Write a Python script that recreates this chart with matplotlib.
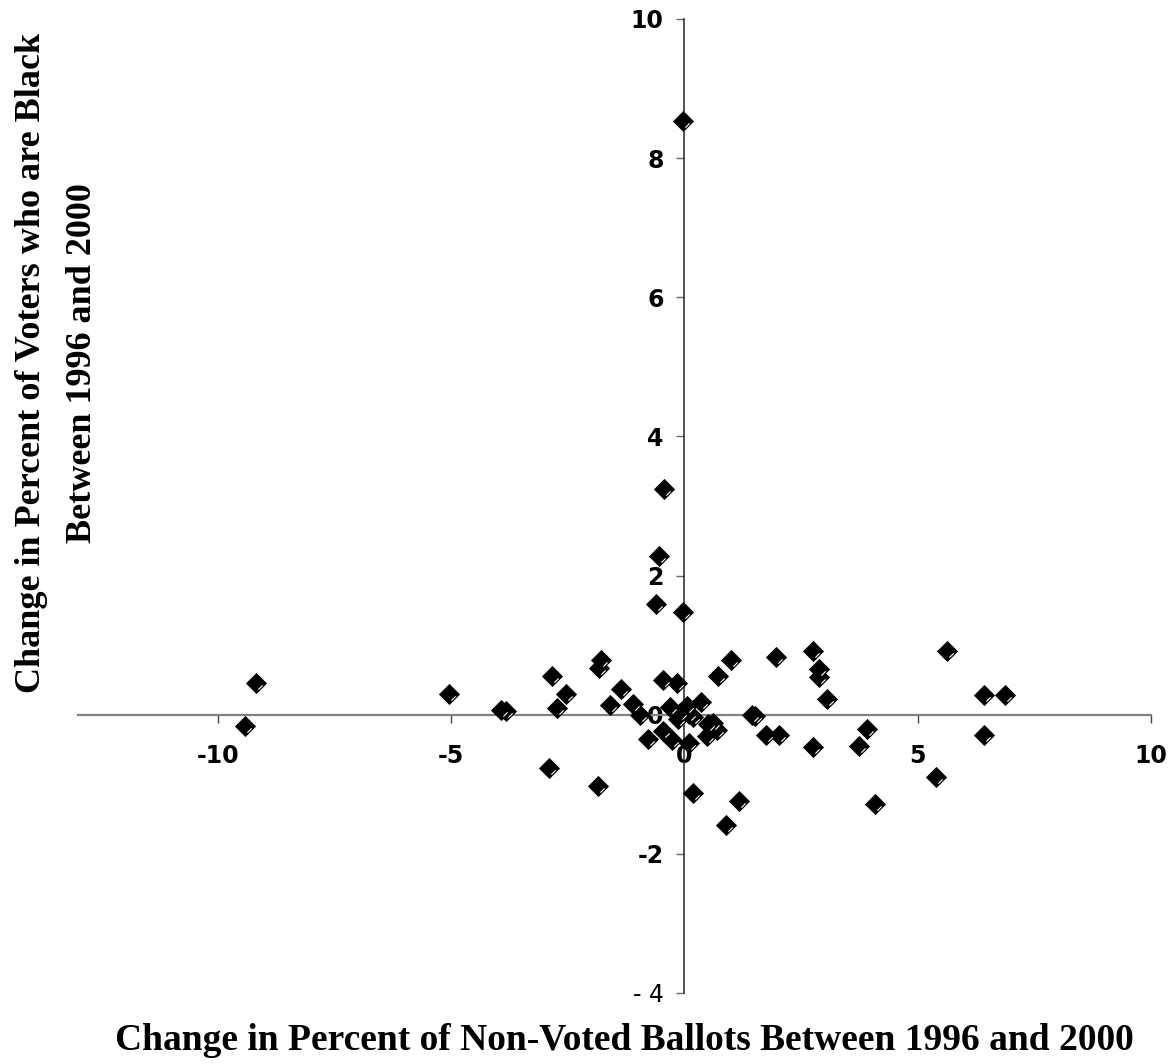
import matplotlib
matplotlib.use("Agg")
import matplotlib.pyplot as plt
from matplotlib.path import Path

# Change in percent of non-voted ballots (x) vs change in percent of voters who are Black (y)
x_vals = [-9.42, -9.19, -5.05, -3.94, -3.82, -2.85, -2.74, -2.55, -2.91, -1.80,
          -1.83, -1.86, -1.60, -1.35, -1.10, -0.95, -0.78, -0.62, -0.54, -0.43,
          -0.03, -0.03, -0.46, -0.17, -0.45, -0.32, -0.26, -0.10, -0.13, 0.06,
          0.09, 0.19, 0.35, 0.10, 0.50, 0.48, 0.70, 0.62, 0.71, 1.00,
          0.19, 1.17, 0.88, 1.45, 1.51, 1.74, 2.03, 1.97, 2.76, 2.88,
          2.88, 3.06, 2.76, 3.74, 3.92, 4.09, 5.40, 5.63, 6.42, 6.88,
          6.42]
y_vals = [-0.16, 0.45, 0.30, 0.07, 0.06, 0.56, 0.10, 0.30, -0.76, 0.79,
          0.67, -1.03, 0.14, 0.37, 0.16, 0.00, -0.35, 1.59, 2.28, 3.25,
          8.53, 1.48, 0.50, 0.45, -0.23, 0.11, -0.37, 0.03, -0.06, 0.13,
          0.01, -0.04, 0.18, -0.40, -0.14, -0.30, -0.22, -0.12, 0.56, 0.79,
          -1.12, -1.24, -1.58, 0.00, -0.02, -0.29, -0.29, 0.83, 0.91, 0.65,
          0.54, 0.22, -0.47, -0.45, -0.20, -1.28, -0.89, 0.91, 0.29, 0.29,
          -0.29]

x_ticks = [-10, -5, 0, 5, 10]
x_ticklabels = ["-10", "-5", "0", "5", "10"]
y_ticks = [-4, -2, 0, 2, 4, 6, 8, 10]
y_ticklabels = ["- 4", "-2", "0", "2", "4", "6", "8", "10"]

x_title = "Change in Percent of Non-Voted Ballots Between 1996 and 2000"
y_title = "Change in Percent of Voters who are Black\nBetween 1996 and 2000"

W, H = 1171, 1064
fig = plt.figure(figsize=(W / 100, H / 100), dpi=100)
ax = fig.add_axes([78 / W, 1 - 993 / H, (1151 - 78) / W, (993 - 19) / H])

ax.set_xlim(-13, 10)
ax.set_ylim(-4, 10)

for s in ["top", "right"]:
    ax.spines[s].set_visible(False)
ax.spines["left"].set_position(("data", 0))
ax.spines["bottom"].set_position(("data", 0))
ax.spines["bottom"].set_color("#808080")
ax.spines["bottom"].set_linewidth(1.6)
ax.spines["left"].set_color("#222222")
ax.spines["left"].set_linewidth(1.1)

ax.set_xticks(x_ticks)
ax.set_xticklabels(x_ticklabels)
ax.set_yticks(y_ticks)
ax.set_yticklabels(y_ticklabels)
ax.tick_params(axis="x", direction="out", length=6, width=1, color="#444444",
               pad=15, labelsize=17)
ax.tick_params(axis="y", direction="out", length=6, width=1, color="#666666",
               pad=9, labelsize=17)
for lab in ax.get_xticklabels() + ax.get_yticklabels():
    lab.set_fontweight("bold")
    lab.set_family("DejaVu Sans")
ax.get_yticklabels()[0].set_fontweight("normal")

# black diamond markers
ms = 10.5
ax.plot(x_vals, y_vals, linestyle="none", marker="D", ms=ms,
        mfc="black", mec="black", mew=0.6, zorder=3)
# small white highlight line on each diamond
hl = Path([(0.5, 0.0), (0.13, -0.42), (0.42, -0.13)],
          [Path.MOVETO, Path.MOVETO, Path.LINETO])
ax.plot(x_vals, y_vals, linestyle="none", marker=hl, ms=ms,
        mfc="none", mec="white", mew=0.8, zorder=4)

fig.text(624 / W, 1 - 1040 / H, x_title, ha="center", va="center",
         fontsize=27, fontweight="bold", family="Liberation Serif")
fig.text(57 / W, 1 - 363 / H, y_title, ha="center", va="center",
         rotation=90, fontsize=26, fontweight="bold", family="Liberation Serif",
         linespacing=1.7, multialignment="center")

fig.savefig("out.png", dpi=100)
